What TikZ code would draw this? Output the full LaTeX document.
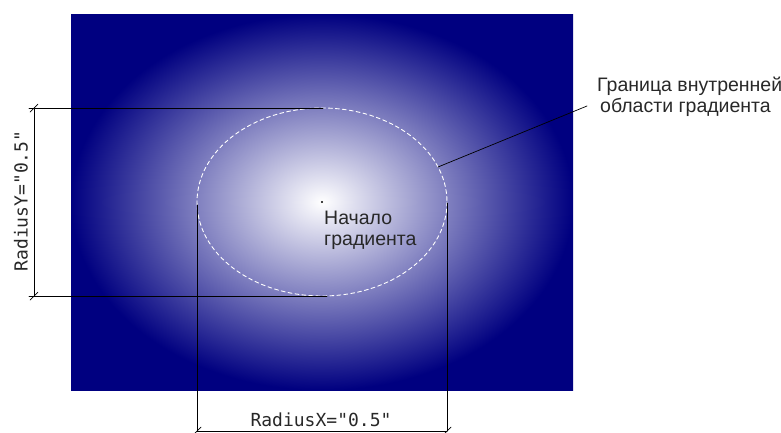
\documentclass[tikz,border=0pt]{standalone}
\usepackage{fontspec}
\setmainfont{Liberation Sans}
\setmonofont{DejaVu Sans Mono}
\definecolor{navyblue}{RGB}{0,0,128}
\definecolor{labelgray}{RGB}{40,40,40}
\tikzset{
  dimline/.style={black,line width=0.9pt},
  dimtick/.style={black,line width=0.7pt},
  rimline/.style={white,line width=0.9pt,dash pattern=on 4pt off 3pt},
  sanslbl/.style={inner sep=0pt,align=left,text=labelgray,font=\fontsize{19.5}{21}\selectfont},
  monolbl/.style={inner sep=0pt,text=labelgray,font=\ttfamily\fontsize{18}{20}\selectfont}
}
\begin{document}
\begin{tikzpicture}[x=1pt,y=-1pt,line cap=round,line join=round]
  \def\cx{322}
  \def\cy{202}
  \def\rx{125}
  \def\ry{94}
  \useasboundingbox (0,0) rectangle (781,432);
  % gradient area
  \shade[inner color=white,outer color=navyblue] (71,14) rectangle (573,390);
  \draw[rimline] (\cx,\cy) ellipse[x radius=\rx,y radius=\ry];
  \node[circle,fill=black,inner sep=0.8pt] (origin) at (\cx,\cy) {};
  \node[sanslbl,anchor=north west] (originlbl) at (\cx+2,\cy+9) {Начало\\градиента};
  % inner boundary label
  \coordinate (rim) at (438,167);
  \coordinate (rimend) at (587,106);
  \node[sanslbl,anchor=west] (rimlbl) at (597,97) {Граница внутренней\\ \hspace{3pt}области градиента};
  \draw[dimline,line width=0.7pt] (rim) -- (rimend);
  % RadiusY
  \coordinate (ytopa) at (29,\cy-\ry);
  \coordinate (ytopb) at (\cx+1,\cy-\ry);
  \coordinate (ybota) at (29,\cy+\ry);
  \coordinate (ybotb) at (\cx+5,\cy+\ry);
  \coordinate (ydimt) at (34,\cy-\ry);
  \coordinate (ydimb) at (34,\cy+\ry);
  \draw[dimline] (ytopa) -- (ytopb);
  \draw[dimline] (ybota) -- (ybotb);
  \draw[dimline] (ydimt) -- (ydimb);
  \node[monolbl,rotate=90] (ylbl) at (21,201) {RadiusY="0.5"};
  % RadiusX
  \coordinate (xlefta) at (\cx-\rx,\cy+3);
  \coordinate (xrighta) at (\cx+\rx,\cy+1);
  \coordinate (xdiml) at (\cx-\rx,431);
  \coordinate (xdimr) at (\cx+\rx,431);
  \draw[dimline] (xlefta) -- (xdiml);
  \draw[dimline] (xrighta) -- (xdimr);
  \draw[dimline] (xdiml) -- (xdimr);
  \node[monolbl] (xlbl) at (321,420) {RadiusX="0.5"};
  % ticks
  \foreach \p in {ydimt,ydimb,xdiml,xdimr}
    \draw[dimtick,shift={(\p)}] (-4,4) -- (4,-4);
\end{tikzpicture}
\end{document}
